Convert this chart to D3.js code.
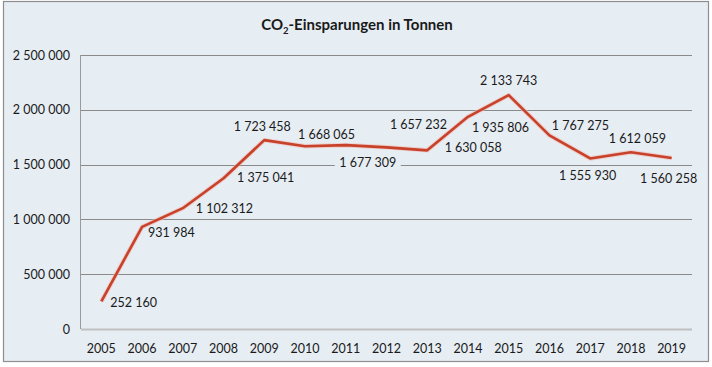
<!doctype html>
<html>
<head>
<meta charset="utf-8">
<script src="https://cdn.jsdelivr.net/npm/d3@7"></script>
<style>
  body { margin: 0; background: #fff; }
  text { font-family: Lato, "Open Sans", sans-serif; fill: #1a1a1a; }
</style>
</head>
<body>
<div id="chart"></div>
<script>
// data
var years = ["2005","2006","2007","2008","2009","2010","2011","2012","2013","2014","2015","2016","2017","2018","2019"];
var savings = [252160, 931984, 1102312, 1375041, 1723458, 1668065, 1677309, 1657232, 1630058, 1935806, 2133743, 1767275, 1555930, 1612059, 1560258];
var yTicks = [0, 500000, 1000000, 1500000, 2000000, 2500000];

// where each value label sits relative to its point (dx, dy of baseline, anchor)
var labelPos = [
  [9, 6, "start"], [6, 10.5, "start"], [13, 5, "start"], [13.5, 4, "start"],
  [-2, -9, "middle"], [21.5, -7, "middle"], [22, 21.5, "middle"], [32, -18.5, "middle"],
  [46, 1.5, "middle"], [32.5, 15, "middle"], [0, -10, "middle"], [31, -5, "middle"],
  [-2.5, 21.5, "middle"], [6.5, -9, "middle"], [-3, 25, "middle"]
];

var W = 712, H = 367;
var margin = {top: 55, right: 20, bottom: 38, left: 81};
var w = 692 - margin.left, h = 329 - margin.top;

var fmtSpace = function(v) { return d3.format(",")(v).replace(/,/g, " "); };

var svg = d3.select("#chart").append("svg")
  .attr("width", W).attr("height", H);

// background + frame
svg.append("rect")
  .attr("x", 3.5).attr("y", 1.5).attr("width", 705).attr("height", 360)
  .attr("fill", "#e6edf3").attr("stroke", "#8e8e8e").attr("stroke-width", 1.2);

svg.append("text")
  .attr("x", 357).attr("y", 30)
  .attr("text-anchor", "middle")
  .style("font-size", "15px").style("font-weight", "bold")
  .call(function(t) {
    t.append("tspan").text("CO");
    t.append("tspan").attr("dy", 4).style("font-size", "9.5px").text("2");
    t.append("tspan").attr("dy", -4).text("-Einsparungen in Tonnen");
  });

var g = svg.append("g").attr("transform", "translate(" + margin.left + "," + margin.top + ")");

var x = d3.scaleBand().domain(years).range([0, w]);
var y = d3.scaleLinear().domain([0, 2500000]).range([h, 0]);

// gridlines
g.selectAll(".grid").data(yTicks.slice(1)).enter().append("line")
  .attr("x1", 0).attr("x2", w)
  .attr("y1", function(d) { return Math.round(y(d)) + 0.5; })
  .attr("y2", function(d) { return Math.round(y(d)) + 0.5; })
  .attr("stroke", "#8a8a8a").attr("stroke-width", 1);

// axes lines
g.append("line").attr("x1", 0).attr("x2", w).attr("y1", h + 0.5).attr("y2", h + 0.5)
  .attr("stroke", "#c0c0c0").attr("stroke-width", 2);
g.append("line").attr("x1", -0.5).attr("x2", -0.5).attr("y1", 0).attr("y2", h)
  .attr("stroke", "#9a9a9a").attr("stroke-width", 1);

// y labels
g.selectAll(".ytick").data(yTicks).enter().append("text")
  .attr("x", -11).attr("y", function(d) { return y(d) + 4.5; })
  .attr("text-anchor", "end")
  .style("font-size", "12.5px")
  .text(function(d) { return fmtSpace(d); });

// x labels
g.selectAll(".xtick").data(years).enter().append("text")
  .attr("x", function(d) { return x(d) + x.bandwidth() / 2; })
  .attr("y", h + 24)
  .attr("text-anchor", "middle")
  .style("font-size", "12.5px")
  .text(function(d) { return d; });

// line
var line = d3.line()
  .x(function(d, i) { return x(years[i]) + x.bandwidth() / 2; })
  .y(function(d) { return y(d); });

g.append("path").datum(savings)
  .attr("d", line).attr("fill", "none")
  .attr("stroke", "#f2b8ad").attr("stroke-width", 4.5).attr("stroke-opacity", 0.6)
  .attr("stroke-linejoin", "round");
g.append("path").datum(savings)
  .attr("d", line).attr("fill", "none")
  .attr("stroke", "#c8412b").attr("stroke-width", 2.6)
  .attr("stroke-linejoin", "round");

// value labels
var lbl = g.selectAll(".val").data(savings).enter().append("g")
  .attr("transform", function(d, i) {
    var px = x(years[i]) + x.bandwidth() / 2 + labelPos[i][0];
    var py = y(d) + labelPos[i][1];
    return "translate(" + px + "," + py + ")";
  });

// label 2011 sits on a gridline and gets a background box
lbl.filter(function(d, i) { return i === 6; }).append("rect")
  .attr("x", -33).attr("y", -11).attr("width", 66).attr("height", 15)
  .attr("fill", "#e6edf3");

lbl.append("text")
  .attr("text-anchor", function(d, i) { return labelPos[i][2]; })
  .style("font-size", "12.5px")
  .text(function(d) { return fmtSpace(d); });
</script>
</body>
</html>
